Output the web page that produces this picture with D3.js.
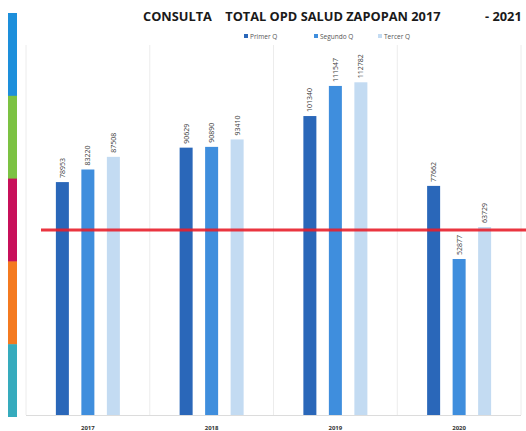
<!DOCTYPE html>
<html>
<head>
<meta charset="utf-8">
<script src="https://cdn.jsdelivr.net/npm/d3@7"></script>
<style>
  body { margin: 0; background: #fff; }
  text { font-family: "Open Sans", "DejaVu Sans", sans-serif; }
</style>
</head>
<body>
<div class="canvas"></div>
<script>
// data
const years = ['2017', '2018', '2019', '2020']
const series = ['Primer Q', 'Segundo Q', 'Tercer Q']
const primerQ = [78953, 90629, 101340, 77662]
const segundoQ = [83220, 90890, 111547, 52877]
const tercerQ = [87508, 93410, 112782, 63729]
const referenceValue = 62700
const stripeColors = ['#1d8fdb', '#7cc243', '#c8105a', '#f47a20', '#36abbd']

const colors = ['#2a67b9', '#3f8edd', '#c3dbf2']
const values = [primerQ, segundoQ, tercerQ]

const dimensions = {
  width: 526,
  height: 431,
  plotLeft: 26,
  plotRight: 521,
  plotTop: 45,
  plotBottom: 415,
}

const svg = d3
  .select('.canvas')
  .append('svg')
  .attr('width', dimensions.width)
  .attr('height', dimensions.height)

// scales
const x = d3
  .scaleBand()
  .domain(years)
  .range([dimensions.plotLeft, dimensions.plotRight])
const xInner = d3
  .scaleBand()
  .domain(series)
  .range([x.bandwidth() / 2 - 32, x.bandwidth() / 2 + 32])
  .paddingInner(0.49)
const y = d3.scaleLinear().domain([0, 120000]).range([dimensions.plotBottom, 61])

// left decorative stripe (last segment runs a bit short)
const stripe = d3
  .scaleBand()
  .domain(d3.range(stripeColors.length))
  .range([13, 427])
svg
  .append('g')
  .selectAll('rect')
  .data(stripeColors)
  .join('rect')
  .attr('x', 8)
  .attr('width', 9)
  .attr('y', (d, i) => stripe(i))
  .attr('height', (d, i) => Math.min(stripe.bandwidth() + 0.5, 417 - stripe(i)))
  .attr('fill', (d) => d)

// vertical gridlines at category boundaries
const bounds = years.map((d) => x(d)).concat([dimensions.plotRight])
svg
  .append('g')
  .selectAll('line')
  .data(bounds)
  .join('line')
  .attr('x1', (d) => d)
  .attr('x2', (d) => d)
  .attr('y1', dimensions.plotTop)
  .attr('y2', dimensions.plotBottom)
  .attr('stroke', '#ececec')
  .attr('stroke-width', 1)

// baseline
svg
  .append('line')
  .attr('x1', dimensions.plotLeft)
  .attr('x2', dimensions.plotRight)
  .attr('y1', dimensions.plotBottom + 0.5)
  .attr('y2', dimensions.plotBottom + 0.5)
  .attr('stroke', '#dcdcdc')

// bars
const rows = []
years.forEach((yr, i) => {
  series.forEach((s, j) => {
    rows.push({ year: yr, series: s, value: values[j][i], color: colors[j] })
  })
})

const groups = svg
  .append('g')
  .selectAll('g')
  .data(years)
  .join('g')
  .attr('transform', (d) => `translate(${x(d)}, 0)`)

groups
  .selectAll('rect')
  .data((yr) => rows.filter((r) => r.year === yr))
  .join('rect')
  .attr('x', (d) => xInner(d.series))
  .attr('width', xInner.bandwidth())
  .attr('y', (d) => y(d.value))
  .attr('height', (d) => y(0) - y(d.value))
  .attr('fill', (d) => d.color)

// value labels, rotated
groups
  .selectAll('text.val')
  .data((yr) => rows.filter((r) => r.year === yr))
  .join('text')
  .attr('class', 'val')
  .attr(
    'transform',
    (d) =>
      `translate(${xInner(d.series) + xInner.bandwidth() / 2 + 2.5}, ${y(d.value) - 4}) rotate(-90)`
  )
  .attr('font-size', 7)
  .attr('fill', '#404040')
  .text((d) => d.value)

// reference line
svg
  .append('line')
  .attr('x1', 41)
  .attr('x2', dimensions.width)
  .attr('y1', y(referenceValue))
  .attr('y2', y(referenceValue))
  .attr('stroke', '#e8202c')
  .attr('stroke-width', 3)
  .attr('opacity', 0.9)

// x axis labels
svg
  .append('g')
  .selectAll('text')
  .data(years)
  .join('text')
  .attr('x', (d) => x(d) + x.bandwidth() / 2)
  .attr('y', 430)
  .attr('text-anchor', 'middle')
  .attr('font-size', 6)
  .attr('font-weight', 'bold')
  .attr('fill', '#333')
  .text((d) => d)

// title
svg
  .append('text')
  .attr('x', 143)
  .attr('y', 21)
  .attr('font-size', 12.8)
  .attr('font-weight', 'bold')
  .attr('fill', '#1a1a1a')
  .attr('xml:space', 'preserve')
  .text('CONSULTA    TOTAL OPD SALUD ZAPOPAN 2017')
svg
  .append('text')
  .attr('x', 485)
  .attr('y', 21)
  .attr('font-size', 12.8)
  .attr('font-weight', 'bold')
  .attr('fill', '#1a1a1a')
  .text('- 2021')

// legend
const legendX = [244, 314, 378]
const legend = svg
  .append('g')
  .selectAll('g')
  .data(series)
  .join('g')
  .attr('transform', (d, i) => `translate(${legendX[i]}, 38)`)
legend
  .append('rect')
  .attr('y', -4)
  .attr('width', 4)
  .attr('height', 4)
  .attr('fill', (d, i) => colors[i])
legend
  .append('text')
  .attr('x', 6)
  .attr('y', 0.5)
  .attr('font-size', 6.5)
  .attr('fill', '#555')
  .text((d) => d)
</script>
</body>
</html>
